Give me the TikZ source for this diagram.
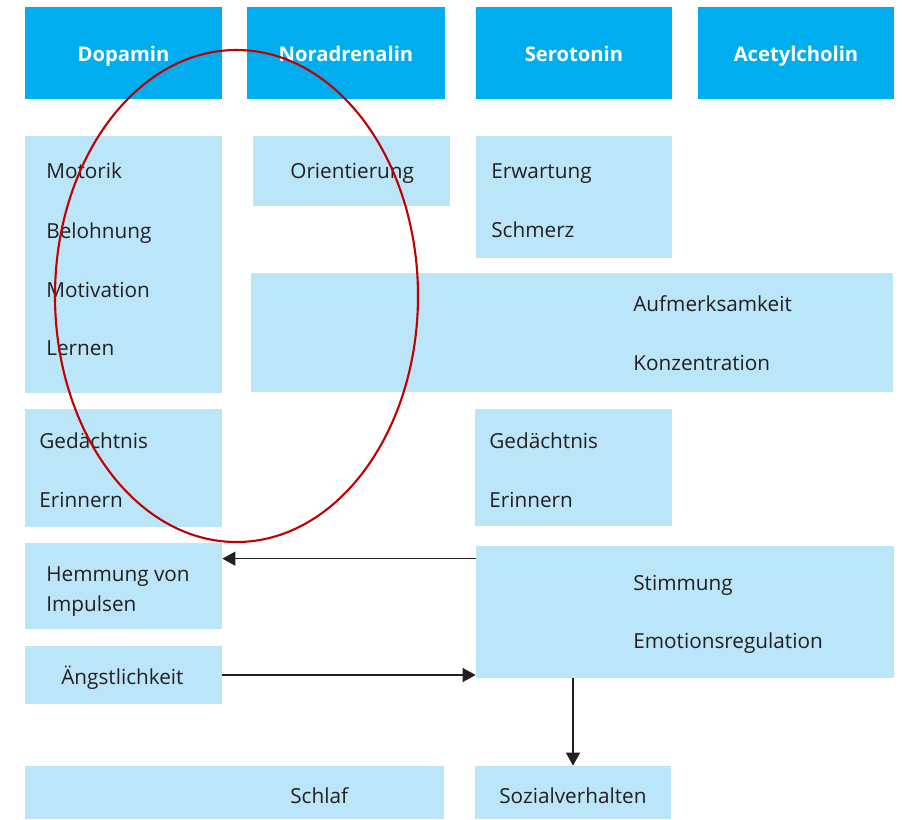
\documentclass[tikz,border=0pt]{standalone}
\usepackage{fontspec}
\setmainfont{Open Sans}
\usetikzlibrary{fit,arrows.meta}
\definecolor{headblue}{RGB}{0,174,239}
\definecolor{cellblue}{RGB}{187,229,249}
\definecolor{inkgray}{RGB}{35,31,32}
\definecolor{markred}{RGB}{192,0,0}

\begin{document}
\begin{tikzpicture}[x=0.2mm,y=-0.2mm,>={Triangle[length=2.6mm,width=2.8mm]},
  head/.style={fill=headblue,inner sep=0},
  headtext/.style={anchor=base,inner sep=0,text=white,
    font=\bfseries\fontsize{11.5}{13}\selectfont},
  cell/.style={fill=cellblue,inner sep=0},
  item/.style={anchor=base west,inner sep=0,text=inkgray,
    font=\fontsize{11.8}{14}\selectfont},
  link/.style={->,draw=inkgray,line width=0.6pt}]
  \useasboundingbox (0,0) rectangle (902,819);
  %
  % Transmitter headers
  \node[head,fit={(25,7) (222,99)}] (dop) {};
  \node[head,fit={(247,7) (445,99)}] (nor) {};
  \node[head,fit={(476,7) (672,99)}] (ser) {};
  \node[head,fit={(698,7) (894,99)}] (ach) {};
  \node[headtext] (dopT) at (dop |- 0,61) {Dopamin};
  \node[headtext] (norT) at (nor |- 0,61) {Noradrenalin};
  \node[headtext] (serT) at (ser |- 0,61) {Serotonin};
  \node[headtext] (achT) at (ach |- 0,61) {Acetylcholin};
  %
  % Function boxes
  \node[cell,fit={(25,136) (222,393)}] (motorik) {};
  \node[cell,fit={(253,136) (450,206)}] (orient) {};
  \node[cell,fit={(476,136) (672,258)}] (erwart) {};
  \node[cell,fit={(251,273) (893,392)}] (aufm) {};
  \node[cell,fit={(25,409) (222,527)}] (gedL) {};
  \node[cell,fit={(475,409) (672,526)}] (gedR) {};
  \node[cell,fit={(25,543) (222,629)}] (hemm) {};
  \node[cell,fit={(476,546) (894,678)}] (stimm) {};
  \node[cell,fit={(25,646) (222,704)}] (angst) {};
  \node[cell,fit={(25,766) (444,819)}] (schlaf) {};
  \node[cell,fit={(475,766) (671,819)}] (sozial) {};
  %
  % Texts
  \node[item] (motorikA) at (46,178) {Motorik};
  \node[item] (motorikB) at (46,238) {Belohnung};
  \node[item] (motorikC) at (46,297) {Motivation};
  \node[item] (motorikD) at (46,355) {Lernen};
  \node[item] (orientA) at (290,178) {Orientierung};
  \node[item] (erwartA) at (491,178) {Erwartung};
  \node[item] (erwartB) at (491,237) {Schmerz};
  \node[item] (aufmA) at (633,311) {Aufmerksamkeit};
  \node[item] (aufmB) at (633,370) {Konzentration};
  \node[item] (gedLA) at (39,448) {Gedächtnis};
  \node[item] (gedLB) at (39,507) {Erinnern};
  \node[item] (gedRA) at (489,448) {Gedächtnis};
  \node[item] (gedRB) at (489,507) {Erinnern};
  \node[item] (hemmA) at (46,581) {Hemmung von};
  \node[item] (hemmB) at (46,611) {Impulsen};
  \node[item] (stimmA) at (633,590) {Stimmung};
  \node[item] (stimmB) at (633,648) {Emotionsregulation};
  \node[item] (angstA) at (61,684) {Ängstlichkeit};
  \node[item] (schlafA) at (290,803) {Schlaf};
  \node[item] (sozialA) at (499,803) {Sozialverhalten};
  %
  % Connections
  \draw[link] ([yshift=-2.6mm]stimm.north west)
    -- ([yshift=-2.6mm]stimm.north west -| hemm.east);
  \draw[link] (angst.east) -- (angst.east -| stimm.west);
  \draw[link] (stimm.south -| sozial.north) -- (sozial.north);
  %
  % Dopamine/noradrenaline ring
  \draw[markred,line width=1.2pt] (236.5,296)
    ellipse [x radius=36.3mm,y radius=49.2mm];
\end{tikzpicture}
\end{document}
